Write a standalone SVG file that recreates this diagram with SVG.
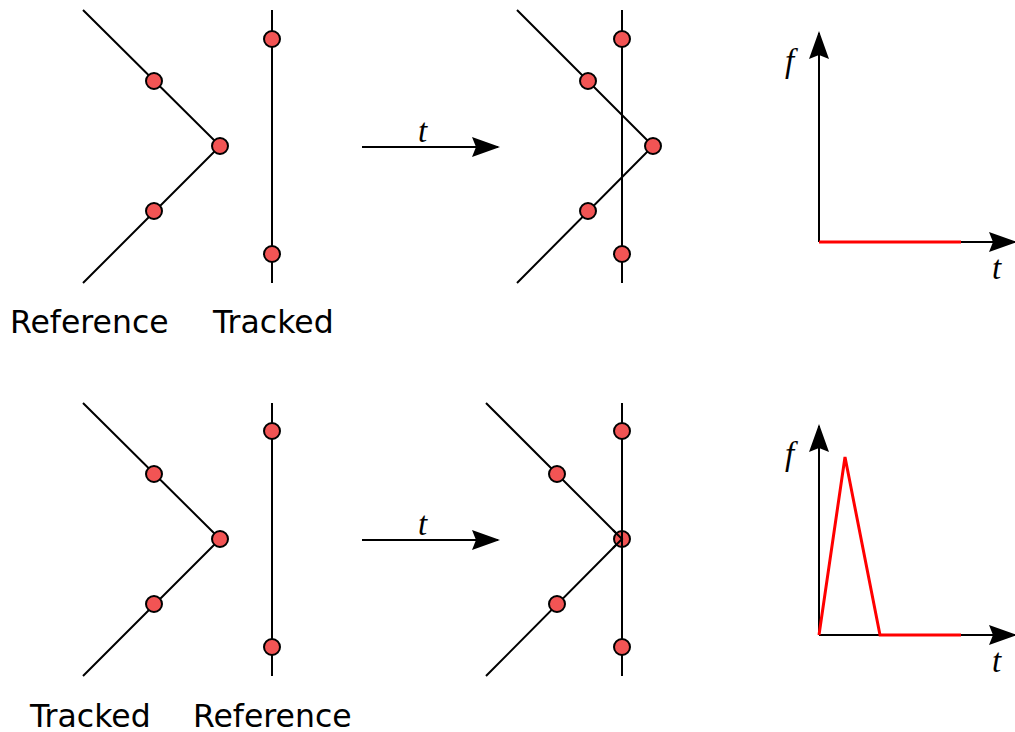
<svg xmlns="http://www.w3.org/2000/svg" width="1015" height="732" viewBox="0 0 1015 732">
<style>
.ln{fill:none;stroke:#000;stroke-width:2}
.red{fill:none;stroke:#f00;stroke-width:3;stroke-linejoin:miter}
.dot{fill:#f25454;stroke:#000;stroke-width:2}
.lbl{font-family:"DejaVu Sans",sans-serif;font-size:31.5px;fill:#000}
.it{font-family:"Liberation Serif",serif;font-style:italic;font-size:33px;fill:#000}
</style>
<defs>
<marker id="ah" viewBox="0 0 28 20" refX="26" refY="10" markerWidth="28" markerHeight="20" markerUnits="userSpaceOnUse" orient="auto">
<path d="M0,0 L28,10 L0,20 L4,10 Z" fill="#000"/>
</marker>
</defs>
<g id="connectors">
<line class="ln" x1="362" y1="147" x2="498" y2="147" marker-end="url(#ah)"/>
<line class="ln" x1="362" y1="540" x2="498" y2="540" marker-end="url(#ah)"/>
</g>
<g id="top-ref">
<polyline class="ln" points="83,10 220,146 83,283"/>
<circle class="dot" cx="154" cy="81" r="8"/>
<circle class="dot" cx="220" cy="146" r="8"/>
<circle class="dot" cx="154" cy="211" r="8"/>
</g>
<g id="top-tracked">
<line class="ln" x1="272" y1="10" x2="272" y2="283"/>
<circle class="dot" cx="272" cy="39" r="8"/>
<circle class="dot" cx="272" cy="254" r="8"/>
</g>
<g id="top-labels">
<text class="lbl" x="10" y="333">Reference</text>
<text class="lbl" x="213" y="333">Tracked</text>
<text class="it" x="418" y="142">t</text>
</g>
<g id="top-after">
<polyline class="ln" points="517,10 653,146 517,283"/>
<line class="ln" x1="622" y1="10" x2="622" y2="283"/>
<circle class="dot" cx="588" cy="81" r="8"/>
<circle class="dot" cx="653" cy="146" r="8"/>
<circle class="dot" cx="588" cy="211" r="8"/>
<circle class="dot" cx="622" cy="39" r="8"/>
<circle class="dot" cx="622" cy="254" r="8"/>
</g>
<g id="top-graph">
<line class="ln" x1="819" y1="242" x2="819" y2="33" marker-end="url(#ah)"/>
<line class="ln" x1="819" y1="242" x2="1015" y2="242" marker-end="url(#ah)"/>
<polyline class="red" points="819,242 961,242"/>
<text class="it" x="785" y="72">f</text>
<text class="it" x="992" y="279">t</text>
</g>
<g id="bottom-tracked">
<polyline class="ln" points="83,403 220,539 83,676"/>
<circle class="dot" cx="154" cy="474" r="8"/>
<circle class="dot" cx="220" cy="539" r="8"/>
<circle class="dot" cx="154" cy="604" r="8"/>
</g>
<g id="bottom-ref">
<line class="ln" x1="272" y1="403" x2="272" y2="676"/>
<circle class="dot" cx="272" cy="431" r="8"/>
<circle class="dot" cx="272" cy="647" r="8"/>
</g>
<g id="bottom-labels">
<text class="lbl" x="30" y="727">Tracked</text>
<text class="lbl" x="193" y="727">Reference</text>
<text class="it" x="418" y="535">t</text>
</g>
<g id="bottom-after">
<polyline class="ln" points="486,403 622,539 486,676"/>
<line class="ln" x1="622" y1="403" x2="622" y2="676"/>
<circle class="dot" cx="557" cy="474" r="8"/>
<circle class="dot" cx="557" cy="604" r="8"/>
<circle class="dot" cx="622" cy="431" r="8"/>
<circle class="dot" cx="622" cy="647" r="8"/>
<circle class="dot" cx="622" cy="539" r="8"/>
<line class="ln" x1="622" y1="531" x2="622" y2="547"/>
<polyline class="ln" points="613,530 622,539 613,548"/>
</g>
<g id="bottom-graph">
<line class="ln" x1="819" y1="635" x2="819" y2="426" marker-end="url(#ah)"/>
<line class="ln" x1="819" y1="635" x2="1015" y2="635" marker-end="url(#ah)"/>
<polyline class="red" points="819,635 845,457 880,635 961,635"/>
<text class="it" x="785" y="465">f</text>
<text class="it" x="992" y="672">t</text>
</g>
</svg>
